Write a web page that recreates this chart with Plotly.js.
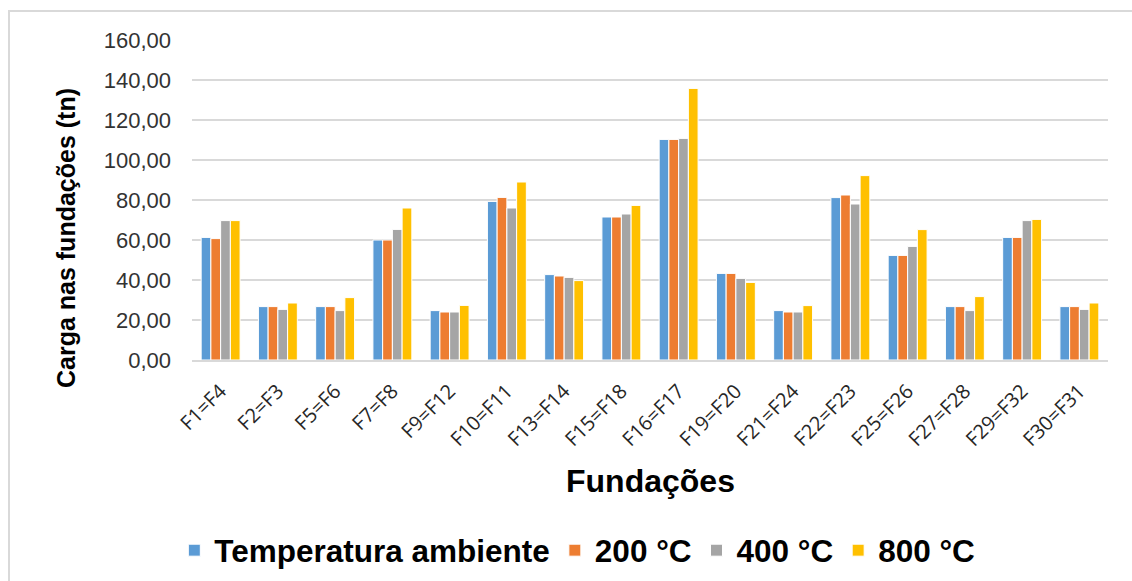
<!DOCTYPE html>
<html>
<head>
<meta charset="utf-8">
<script src="https://cdn.plot.ly/plotly-3.0.1.min.js"></script>
<style>
  html, body { margin: 0; padding: 0; background: #ffffff; }
  #wrap { position: relative; width: 1132px; height: 581px; overflow: hidden; }
  #chart { position: absolute; left: 0; top: 0; width: 1132px; height: 581px; }
  #frame { position: absolute; left: 8px; top: 10px; right: -4px; bottom: -4px;
           border-top: 2px solid #d9d9d9; border-left: 2px solid #d9d9d9; pointer-events: none; }
</style>
</head>
<body>
<div id="wrap">
  <div id="chart"></div>
  <div id="frame"></div>
</div>
<script>
// Foundation pairs (symmetric foundations share the same load)
const fundacoes = ["F1=F4", "F2=F3", "F5=F6", "F7=F8", "F9=F12", "F10=F11", "F13=F14", "F15=F18",
                   "F16=F17", "F19=F20", "F21=F24", "F22=F23", "F25=F26", "F27=F28", "F29=F32", "F30=F31"];

// Load on each foundation (tn) for each temperature case
const tempAmbiente = [61.3, 26.7, 26.7, 60.0, 24.7, 79.3, 42.7, 71.5, 110.3, 43.3, 24.7, 81.2, 52.3, 26.7, 61.3, 26.7];
const carga200 =     [60.7, 26.7, 26.7, 60.0, 24.0, 81.3, 42.0, 71.5, 110.3, 43.3, 24.0, 82.5, 52.3, 26.7, 61.3, 26.7];
const carga400 =     [69.7, 25.3, 24.7, 65.3, 24.0, 76.0, 41.3, 73.0, 110.8, 40.8, 24.0, 78.0, 56.8, 24.7, 69.7, 25.3];
const carga800 =     [69.7, 28.5, 31.2, 76.0, 27.3, 89.0, 39.7, 77.3, 135.8, 38.8, 27.2, 92.2, 65.2, 31.7, 70.3, 28.5];

const seriesNames = ["Temperatura ambiente", "200 °C", "400 °C", "800 °C"];
const seriesValues = [tempAmbiente, carga200, carga400, carga800];
const seriesColors = ["#5b9bd5", "#ed7d31", "#a5a5a5", "#ffc000"];

const traces = seriesValues.map((vals, i) => ({
  type: "bar",
  name: seriesNames[i],
  x: fundacoes,
  y: vals,
  marker: { color: seriesColors[i], line: { color: "#ffffff", width: 1 } },
  hovertemplate: "%{x}: %{y:.2f}<extra>" + seriesNames[i] + "</extra>"
}));

const layout = {
  width: 1132,
  height: 581,
  paper_bgcolor: "#ffffff",
  plot_bgcolor: "#ffffff",
  separators: ",.",
  font: { family: "Liberation Sans, Arial, sans-serif", color: "#000000" },
  margin: { l: 192, r: 24, t: 40, b: 221, pad: 0 },
  barmode: "group",
  bargap: 0.32,
  bargroupgap: 0,
  showlegend: true,
  legend: {
    orientation: "h",
    xref: "container", yref: "container",
    x: 0.51, xanchor: "center",
    y: 0.053, yanchor: "middle",
    font: { family: "Liberation Sans, Arial, sans-serif", size: 31.5, color: "#000000", weight: "bold" },
    itemclick: false, itemdoubleclick: false,
    traceorder: "normal"
  },
  xaxis: {
    type: "category",
    tickangle: -45,
    tickfont: { family: "Open Sans, Liberation Sans, sans-serif", size: 20, color: "#262626" },
    ticklabelstandoff: 10,
    showgrid: false,
    showline: true,
    linecolor: "#d9d9d9",
    linewidth: 1.5,
    ticks: "",
    automargin: false,
    fixedrange: true
  },
  yaxis: {
    range: [0, 160],
    dtick: 20,
    tick0: 0,
    tickformat: ".2f",
    tickfont: { family: "Liberation Sans, Arial, sans-serif", size: 22, color: "#333333" },
    ticklabelstandoff: 20,
    showgrid: true,
    gridcolor: "#d9d9d9",
    gridwidth: 1.5,
    zeroline: false,
    showline: false,
    ticks: "",
    automargin: false,
    fixedrange: true
  },
  annotations: [
    {
      text: "Carga nas fundações (tn)",
      xref: "paper", yref: "paper",
      x: -0.1376, y: 0.381,
      xanchor: "center", yanchor: "middle",
      textangle: -90,
      showarrow: false,
      font: { family: "Liberation Sans, Arial, sans-serif", size: 25, color: "#000000", weight: "bold" }
    },
    {
      text: "Fundações",
      xref: "paper", yref: "paper",
      x: 0.5, y: -0.378,
      xanchor: "center", yanchor: "middle",
      showarrow: false,
      font: { family: "Liberation Sans, Arial, sans-serif", size: 32, color: "#000000", weight: "bold" }
    }
  ]
};

Plotly.newPlot("chart", traces, layout, { displayModeBar: false, staticPlot: true });
</script>
</body>
</html>
